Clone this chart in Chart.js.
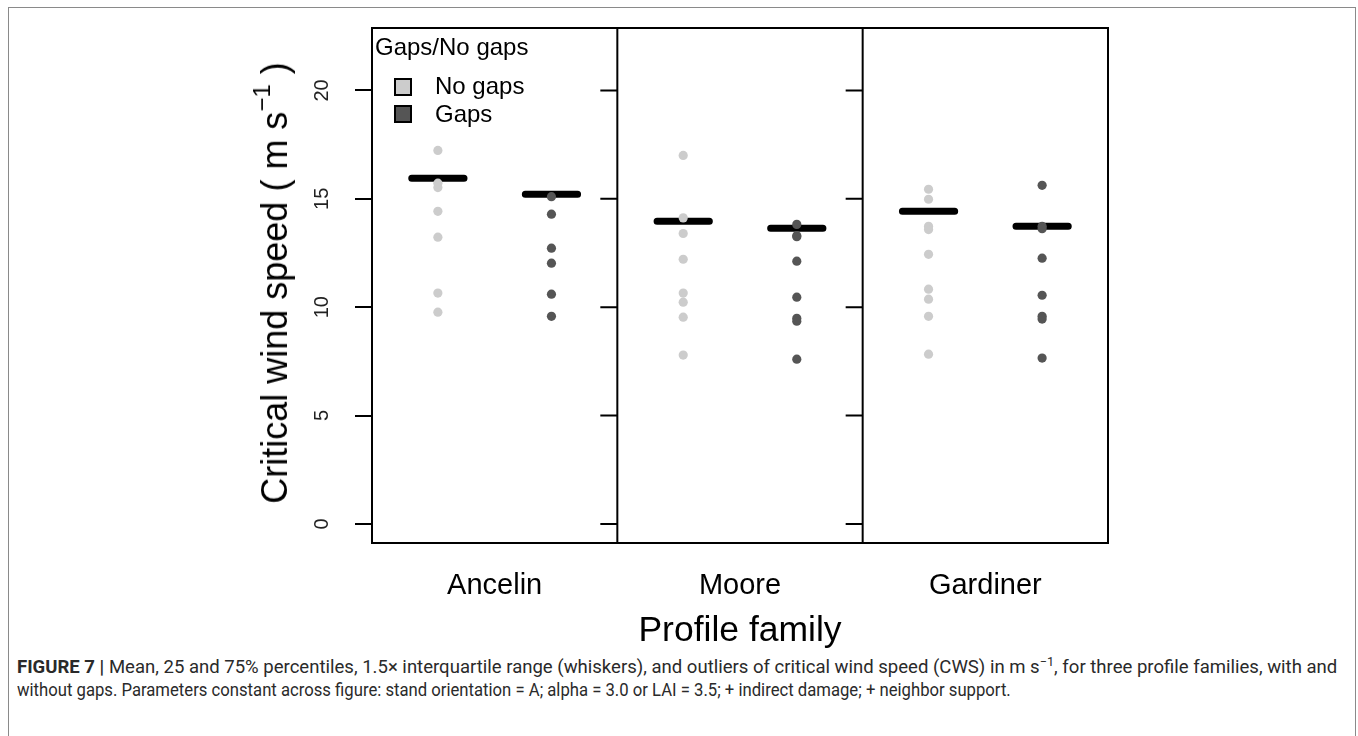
<!DOCTYPE html>
<html>
<head>
<meta charset="utf-8">
<script src="https://cdn.jsdelivr.net/npm/chart.js@4.4.0/dist/chart.umd.min.js"></script>
<style>
  html, body { margin: 0; padding: 0; background: #fff; }
  body { width: 1358px; height: 736px; position: relative; overflow: hidden; font-family: "Liberation Sans", Arial, sans-serif; }
  #frame { position: absolute; left: 8px; top: 7px; width: 1346px; height: 760px; border: 1px solid #8a8a8a; }
  #chart-wrap { position: absolute; left: 0; top: -5px; width: 1358px; height: 660px; }
  #ytitle { position: absolute; left: 275px; top: 283px; transform: translate(-50%, -50%) rotate(-90deg); white-space: nowrap; font-size: 36px; color: #000; }
  #ytitle sup { font-size: 24px; position: relative; top: -4px; vertical-align: top; line-height: 1; }
  .legend { position: absolute; color: #000; font-size: 24px; white-space: nowrap; }
  .swatch { position: absolute; width: 14px; height: 14px; border: 2px solid #000; }
  .caption { position: absolute; left: 17px; font-family: Roboto, "Liberation Sans", sans-serif; font-size: 17.5px; color: #2a2a2a; white-space: nowrap; transform-origin: 0 0; }
</style>
</head>
<body>
<div id="frame"></div>
<div id="chart-wrap"><canvas id="cws-chart" width="1358" height="660"></canvas></div>
<div id="ytitle">Critical wind speed ( m s<sup>−1</sup> )</div>

<div class="legend" style="left:375px; top:33px;">Gaps/No gaps</div>
<div class="swatch" style="left:394px; top:78px; background:#cccccc;"></div>
<div class="legend" style="left:435px; top:72px;">No gaps</div>
<div class="swatch" style="left:394px; top:105px; background:#555555;"></div>
<div class="legend" style="left:435px; top:100px;">Gaps</div>

<div class="caption" id="cap1" style="top:655px;"><b>FIGURE 7 |</b> Mean, 25 and 75% percentiles, 1.5× interquartile range (whiskers), and outliers of critical wind speed (CWS) in m s<sup style="font-size:12px;">−1</sup>, for three profile families, with and</div>
<div class="caption" id="cap2" style="top:680px;">without gaps. Parameters constant across figure: stand orientation = A; alpha = 3.0 or LAI = 3.5; + indirect damage; + neighbor support.</div>

<script>
// data
const families = ['Ancelin', 'Moore', 'Gardiner'];
const noGapsValues = [
  [17.23, 15.72, 15.52, 14.42, 13.23, 10.65, 9.77],
  [17.0, 14.12, 13.4, 12.21, 10.65, 10.23, 9.54, 7.79],
  [15.44, 14.98, 13.73, 13.58, 12.44, 10.83, 10.37, 9.58, 7.83]
];
const gapsValues = [
  [15.1, 14.29, 12.72, 12.03, 10.6, 9.58],
  [13.82, 13.3, 13.25, 12.12, 10.46, 9.49, 9.35, 7.6],
  [15.62, 13.73, 13.62, 12.26, 10.55, 9.58, 9.45, 7.65]
];
const noGapsMeans = [15.95, 13.96, 14.42];
const gapsMeans = [15.21, 13.64, 13.73];
const yTicks = [0, 5, 10, 15, 20];

const FONT = '"Liberation Sans", Arial, sans-serif';
const PANEL = 2.16;      // width of one panel in x units
const X_MIN = 0.42;
const HALF_BAR = 0.23;

const xPos = (f, g) => 1 + g + f * PANEL;

const pointsOf = (values, g) => {
  const out = [];
  values.forEach((list, f) => list.forEach(v => out.push({ x: xPos(f, g), y: v })));
  return out;
};

const barsOf = (means, g) => {
  const out = [];
  means.forEach((m, f) => {
    out.push({ x: xPos(f, g) - HALF_BAR, y: m });
    out.push({ x: xPos(f, g) + HALF_BAR, y: m });
    out.push({ x: xPos(f, g) + 0.5, y: null });
  });
  return out;
};

// frame, panel dividers and their tick marks
const panelPlugin = {
  id: 'panels',
  afterDraw(chart) {
    const { ctx, chartArea, scales } = chart;
    ctx.save();
    ctx.strokeStyle = '#000';
    ctx.lineWidth = 2;
    ctx.strokeRect(chartArea.left, chartArea.top, chartArea.right - chartArea.left, chartArea.bottom - chartArea.top);
    for (let i = 1; i < families.length; i++) {
      const x = scales.x.getPixelForValue(X_MIN + i * PANEL);
      ctx.beginPath();
      ctx.moveTo(x, chartArea.top);
      ctx.lineTo(x, chartArea.bottom);
      yTicks.forEach(t => {
        const y = scales.y.getPixelForValue(t);
        ctx.moveTo(x - 17, y);
        ctx.lineTo(x, y);
      });
      ctx.stroke();
    }
    ctx.restore();
  }
};

const ctx = document.getElementById('cws-chart').getContext('2d');
new Chart(ctx, {
  type: 'scatter',
  data: {
    datasets: [
      { label: 'No gaps', data: pointsOf(noGapsValues, 0), backgroundColor: '#cccccc', borderWidth: 0, pointRadius: 4.6 },
      { label: 'Gaps', data: pointsOf(gapsValues, 1), backgroundColor: '#555555', borderWidth: 0, pointRadius: 4.6 },
      { label: 'mean no gaps', data: barsOf(noGapsMeans, 0), showLine: true, spanGaps: false, borderColor: '#000', borderWidth: 7, borderCapStyle: 'round', pointRadius: 0 },
      { label: 'mean gaps', data: barsOf(gapsMeans, 1), showLine: true, spanGaps: false, borderColor: '#000', borderWidth: 7, borderCapStyle: 'round', pointRadius: 0 }
    ]
  },
  options: {
    responsive: false,
    devicePixelRatio: 1,
    animation: false,
    layout: { padding: { left: 250, top: 21, right: 250, bottom: 0 } },
    plugins: { legend: { display: false }, tooltip: { enabled: false } },
    scales: {
      x: {
        type: 'linear',
        min: X_MIN,
        max: X_MIN + families.length * PANEL,
        afterBuildTicks: s => { s.ticks = families.map((f, i) => ({ value: 1.5 + i * PANEL })); },
        afterFit: s => { s.height = 112; },
        ticks: {
          callback: (v, i) => families[i],
          autoSkip: false, maxRotation: 0,
          padding: 26,
          color: '#000',
          font: { family: FONT, size: 29 }
        },
        grid: { display: false, drawTicks: false },
        border: { display: false },
        title: {
          display: true, text: 'Profile family', color: '#000',
          font: { family: FONT, size: 35.5 },
          padding: { top: 0, bottom: 2 }
        }
      },
      y: {
        min: -0.88,
        max: 22.88,
        afterBuildTicks: s => { s.ticks = yTicks.map(v => ({ value: v })); },
        afterFit: s => { s.width = 122; },
        ticks: {
          minRotation: 90, maxRotation: 90,
          crossAlign: 'center',
          padding: 21,
          color: '#222',
          font: { family: FONT, size: 20 }
        },
        grid: {
          display: true, drawOnChartArea: false, drawTicks: true,
          tickLength: 17, tickWidth: 2, tickColor: '#000', color: '#000', lineWidth: 2
        },
        border: { display: true, color: '#000', width: 2 }
      }
    }
  },
  plugins: [panelPlugin]
});

// fit the caption lines to the widths used in the figure
const cap1 = document.getElementById('cap1');
const cap2 = document.getElementById('cap2');
cap1.style.transform = 'scaleX(' + (1320 / cap1.offsetWidth) + ')';
cap2.style.transform = 'scaleX(' + (994 / cap2.offsetWidth) + ')';
</script>
</body>
</html>
